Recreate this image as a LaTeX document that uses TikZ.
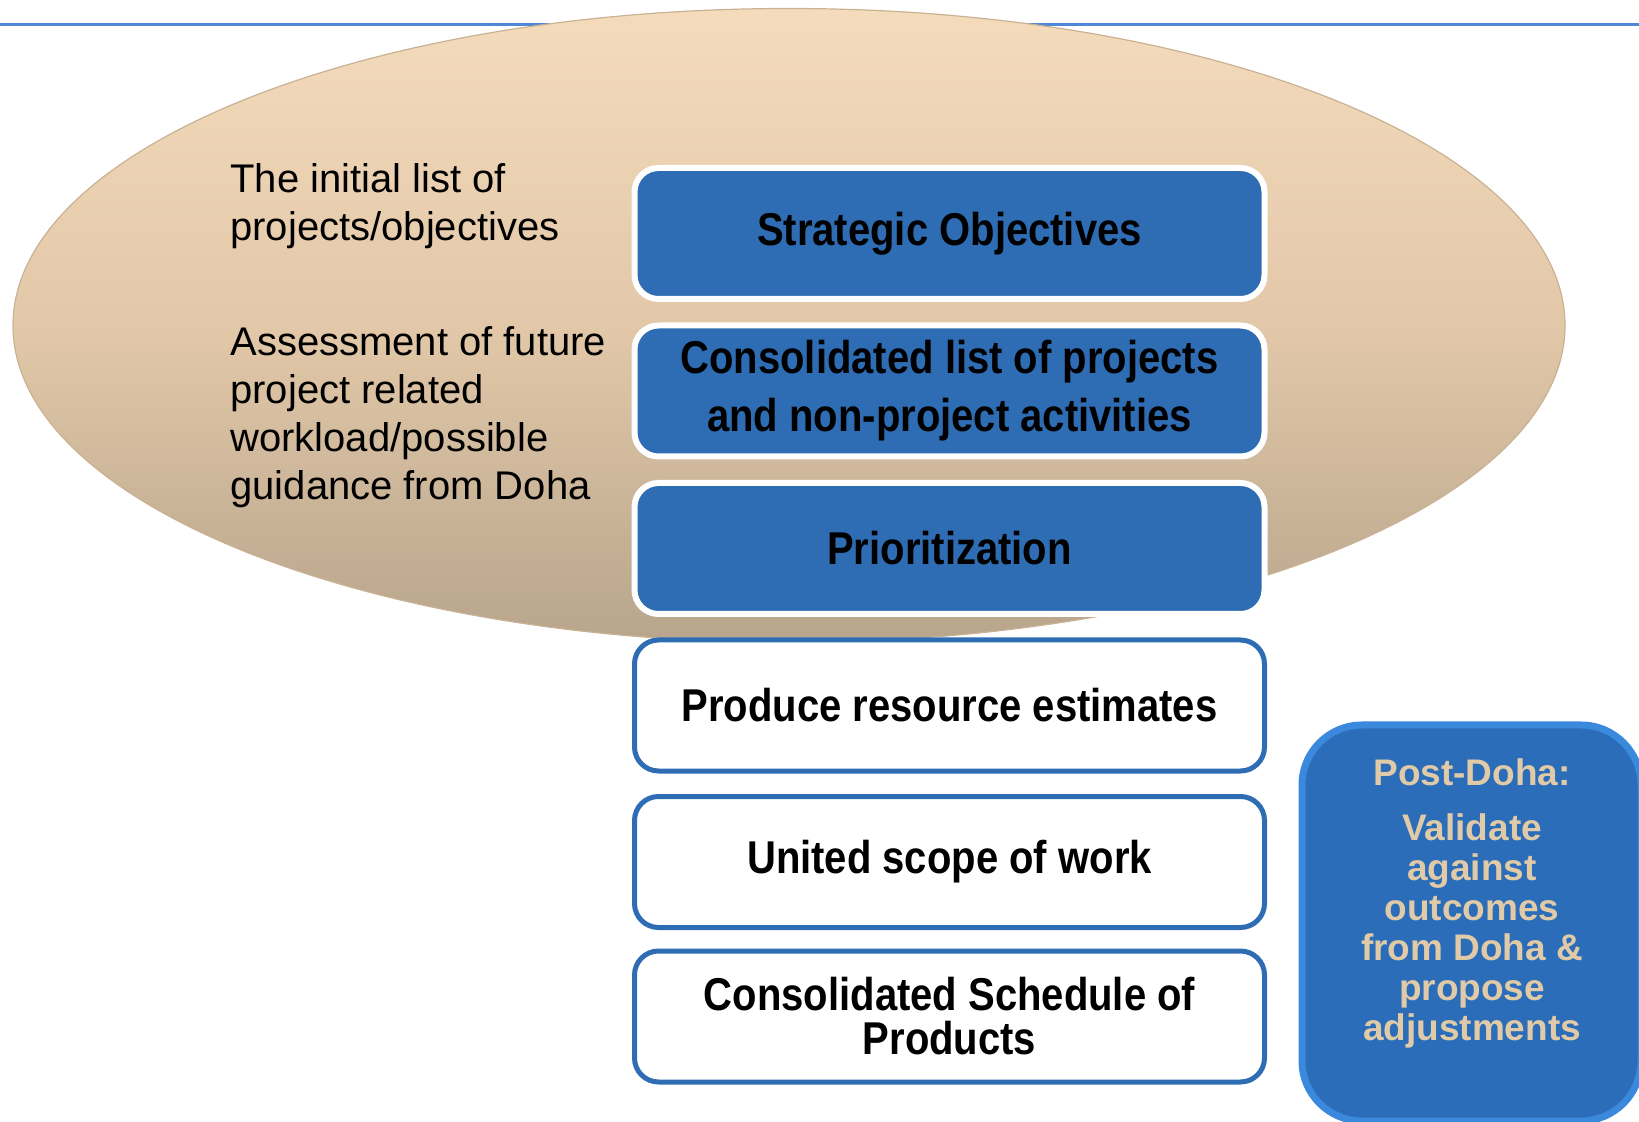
\documentclass[tikz,border=0pt]{standalone}
\usepackage{fontspec}
\setmainfont{Liberation Sans}
\newfontfamily\boxfont[FakeStretch=0.87]{Liberation Sans}
\definecolor{stageblue}{HTML}{2E6DB4}
\definecolor{topline}{HTML}{4F89D6}
\definecolor{ovaltop}{HTML}{F4DBBB}
\definecolor{ovalmid}{HTML}{E2C8A8}
\definecolor{ovalbot}{HTML}{B8A58C}
\definecolor{ovalline}{HTML}{C9B294}
\definecolor{postfill}{HTML}{2B6DB8}
\definecolor{postedge}{HTML}{3A89DD}
\definecolor{posttan}{HTML}{E0CAA7}

\begin{document}
\begin{tikzpicture}[x=0.5pt,y=-0.5pt]
  \tikzstyle{stage}=[rectangle, rounded corners=12pt, minimum width=315pt, minimum height=65.5pt, align=center, inner sep=0pt, font=\boxfont\bfseries\fontsize{23}{22}\selectfont]
  \tikzstyle{stagefill}=[stage, fill=stageblue, draw=white, line width=3pt]
  \tikzstyle{stageline}=[stage, fill=white, draw=stageblue, line width=2.5pt]
  \tikzstyle{note}=[anchor=north west, align=left, inner sep=0pt, font=\fontsize{20}{24}\selectfont]
  \tikzstyle{postbox}=[rectangle, rounded corners=30pt, minimum width=169.5pt, minimum height=198pt, fill=postfill, draw=postedge, line width=3.5pt]
  \tikzstyle{posttext}=[align=center, inner sep=0pt, text=posttan, font=\bfseries\fontsize{18.5}{20}\selectfont]
  \useasboundingbox (0,0) rectangle (1639,1122);

  % background: rule and oval
  \draw[topline, line width=1.5pt] (0,25) -- (1639,25);
  \path[draw=ovalline, line width=0.6pt, top color=ovaltop, bottom color=ovalbot, middle color=ovalmid]
    (789,325.5) ellipse [x radius=388pt, y radius=158.5pt];

  \node[note] (N-init) at (230,163) {The initial list of\\projects/objectives};
  \node[note] (N-assess) at (230,326) {Assessment of future\\project related\\workload/possible\\guidance from Doha};

  \foreach \name/\txt/\y in {so/Strategic Objectives/233.5, cl/{Consolidated list of projects\\[7pt]and non-project activities}/391, pr/Prioritization/548.5}
    \node[stagefill] (G-\name) at (949.5,\y) {\txt};
  \foreach \name/\txt/\y in {re/Produce resource estimates/705.5, us/United scope of work/862, cs/{Consolidated Schedule of\\Products}/1016.5}
    \node[stageline] (G-\name) at (949.5,\y) {\txt};

  \node[postbox] (G-pd) at (1471.5,923) {};
  \node[posttext] (G-pdtxt) at (1472,903) {Post-Doha:\\[7.5pt]Validate\\against\\outcomes\\from Doha \&\\propose\\adjustments};
\end{tikzpicture}
\end{document}
